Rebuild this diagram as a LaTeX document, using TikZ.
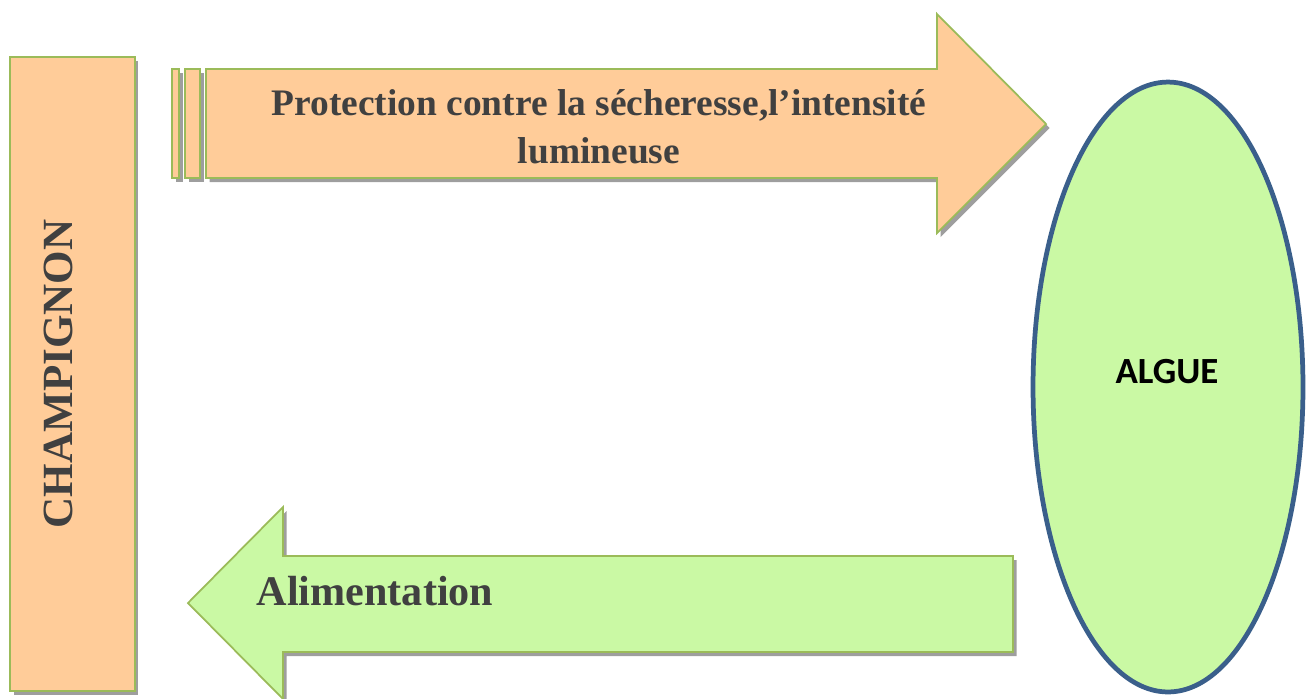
\documentclass[tikz,border=0pt]{standalone}
\usepackage{fontspec}
\setmainfont{Liberation Serif}
\newfontfamily\calibri{Carlito}
\usepackage{xcolor}
\usepackage{tikz}
\usetikzlibrary{shadows,shapes.geometric}
\definecolor{peach}{HTML}{FFCC99}
\definecolor{leaf}{HTML}{CAF9A4}
\definecolor{olive}{HTML}{9BBB59}
\definecolor{navy}{HTML}{3A5F8B}
\definecolor{ink}{HTML}{404040}

\begin{document}
\begin{tikzpicture}[
  x=0.02cm, y=-0.02cm,
  every node/.style={font=\bfseries, text=ink},
  shade/.style={drop shadow={shadow xshift=0.07cm, shadow yshift=-0.08cm, fill=black!38, opacity=1}},
  block/.style={draw=olive, line width=1pt, shade},
]
  \useasboundingbox (0,0) rectangle (1308,698);

  % Champignon
  \node[block, fill=peach, minimum width=2.5cm, minimum height=12.68cm, inner sep=0pt] (champ) at (72.5,374) {};
  \node[rotate=90, anchor=base, font=\bfseries\fontsize{24.5}{29}\selectfont] (champlbl) at (72,374) {CHAMPIGNON};

  % Algue
  \node[ellipse, draw=navy, line width=2.7pt, fill=leaf, minimum width=5.4cm, minimum height=12.2cm] (algue) at (1168,387) {};
  \node[anchor=base, text=black, font=\calibri\bfseries\fontsize{21}{25}\selectfont] (alguelbl) at (1167,383) {ALGUE};

  % Top arrow
  \fill[block, fill=peach] (172,69) rectangle (179,178);
  \fill[block, fill=peach] (185,69) rectangle (200,178);
  \fill[block, fill=peach] (206,69) -- (937,69) -- (937,14) -- (1046,124)
    -- (937,233) -- (937,178) -- (206,178) -- cycle;
  \node[align=center, font=\bfseries\fontsize{21.3}{27.5}\selectfont] (protect) at (599,127)
    {Protection contre la sécheresse,l’intensité\\lumineuse};

  % Bottom arrow
  \fill[block, fill=leaf] (1013,556) -- (283,556) -- (283,507) -- (188,603)
    -- (283,699) -- (283,652) -- (1013,652) -- cycle;
  \node[anchor=base, font=\bfseries\fontsize{24}{29}\selectfont] (alim) at (375,605) {Alimentation};

\end{tikzpicture}
\end{document}
